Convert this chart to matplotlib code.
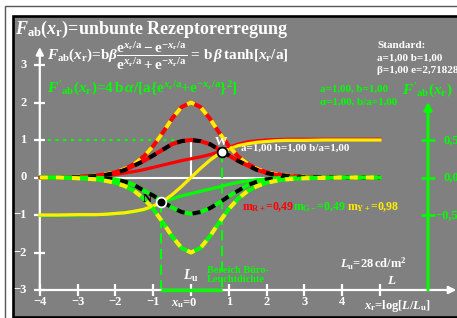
import matplotlib
matplotlib.use("Agg")
import matplotlib.pyplot as plt
from matplotlib.patches import Rectangle

plt.rcParams["font.family"] = "Liberation Serif"
plt.rcParams["font.weight"] = "bold"
plt.rcParams["mathtext.fontset"] = "custom"
plt.rcParams["mathtext.rm"] = "Liberation Serif:bold"
plt.rcParams["mathtext.it"] = "Liberation Serif:italic:bold"
plt.rcParams["mathtext.bf"] = "Liberation Serif:bold"

W, H = 457, 318
X0, SX = 191.0, 37.8   # pixel of x=0 and pixels per unit
Y0, SY = 177.5, 37.5

GRAY = "#808080"
RED = "#ff0000"
YEL = "#ffee00"
GRN = "#00ff00"

# values
x = [-4, -3.5, -3, -2.5, -2.25, -2, -1.75, -1.5, -1.25, -1, -0.75, -0.5, -0.25, 0,
     0.25, 0.5, 0.75, 1, 1.25, 1.5, 1.75, 2, 2.25, 2.5, 3, 3.5, 4, 5]
yellow_solid = [-1.0, -1.0, -0.99, -0.99, -0.98, -0.96, -0.94, -0.9, -0.85, -0.76,
                -0.64, -0.46, -0.24, 0.0, 0.24, 0.46, 0.64, 0.76,
                0.85, 0.9, 0.94, 0.96, 0.98, 0.99, 0.99, 1.0, 1.0, 1.0]
red_solid = [0.0, 0.0, 0.01, 0.03, 0.05, 0.08, 0.12, 0.16, 0.21, 0.27,
             0.33, 0.39, 0.45, 0.5, 0.55, 0.61, 0.69, 0.8,
             0.89, 0.95, 0.98, 1.0, 1.01, 1.02, 1.02, 1.02, 1.02, 1.02]
green_solid = [-1.01, -1.01, -1.0, -0.99, -0.98, -0.96, -0.94, -0.91, -0.86, -0.78,
               -0.66, -0.57, -0.49, -0.43, -0.37, -0.31, -0.25, -0.18,
               -0.13, -0.09, -0.06, -0.04, -0.02, -0.01, 0.0, 0.0, 0.0, 0.0]
red_yellow = [0.0, 0.0, 0.02, 0.05, 0.09, 0.14, 0.23, 0.36, 0.56, 0.84,
              1.19, 1.57, 1.88, 2.0, 1.88, 1.57, 1.19, 0.84,
              0.56, 0.36, 0.23, 0.14, 0.09, 0.05, 0.02, 0.01, 0.0, 0.0]
green_yellow = [-v for v in red_yellow]
red_black = [0.0, 0.0, 0.01, 0.04, 0.07, 0.12, 0.2, 0.32, 0.44, 0.59,
             0.74, 0.89, 0.97, 1.0, 0.97, 0.89, 0.74, 0.59,
             0.44, 0.32, 0.2, 0.12, 0.07, 0.04, 0.01, 0.0, 0.0, 0.0]
green_black = [0.0, 0.0, 0.0, -0.01, -0.02, -0.05, -0.11, -0.2, -0.35, -0.48,
               -0.65, -0.8, -0.92, -0.97, -0.92, -0.82, -0.67, -0.5,
               -0.35, -0.2, -0.11, -0.05, -0.02, -0.01, 0.0, 0.0, 0.0, 0.0]
w_point = (0.82, 0.69)
n_point = (-0.79, -0.64)

y_ticks = [-3, -2, -1, 0, 1, 2, 3]
y_labels = ["\u22123", "\u22122", "\u22121", "0", "1", "2", "3"]
x_ticks = [-4, -3, -2, -1, 0, 1, 2, 3, 4, 5]
x_labels = {-4: "\u22124", -3: "\u22123", -2: "\u22122", -1: "\u22121",
            1: "1", 2: "2", 3: "3", 4: "4"}
right_ticks = [-1, 0, 1]
right_labels = ["\u22120,5", "0,0", "0,5"]
x_right = 6.27


def fp(px, py):
    return px / W, 1 - py / H


def two_tone(xs, ys, base, dash, z):
    ax.plot(xs, ys, color=base, lw=2.9, solid_capstyle="butt", zorder=z)
    ax.plot(xs, ys, color=dash, lw=2.9, dashes=(2.0, 2.0),
            dash_capstyle="butt", zorder=z + 0.1)


fig = plt.figure(figsize=(W / 100, H / 100), dpi=100, facecolor="white")
ax = fig.add_axes([0, 0, 1, 1])
ax.set_xlim(-X0 / SX, (W - X0) / SX)
ax.set_ylim((Y0 - H) / SY, Y0 / SY)
ax.axis("off")

# frames
ax.add_patch(Rectangle(fp(4.5, 330), 470 / W, (330 - 6) / H, transform=ax.transAxes,
                       facecolor="white", edgecolor="#555555", lw=1.0, clip_on=False, zorder=0))
ax.add_patch(Rectangle(fp(12.5, 317), 460 / W, (317 - 15.5) / H, transform=ax.transAxes,
                       facecolor=GRAY, edgecolor="black", lw=1.9, clip_on=False, zorder=0.5))

# white axes with arrows
ax.annotate("", xy=(-4, 3.48), xytext=(-4, -3.0),
            arrowprops=dict(arrowstyle="-|>", color="white", lw=1.6,
                            mutation_scale=11, shrinkA=0, shrinkB=0), zorder=2)
ax.annotate("", xy=(7.02, -3), xytext=(-4, -3),
            arrowprops=dict(arrowstyle="-|>", color="white", lw=1.6,
                            mutation_scale=11, shrinkA=0, shrinkB=0), zorder=2)
ax.hlines(y_ticks, -4.15, -3.85, color="white", lw=1.6, zorder=2)
ax.vlines(x_ticks, -3.16, -2.84, color="white", lw=1.6, zorder=2)

# helper lines
ax.plot([-4, 2.0], [0, 0], color="white", lw=1.5, zorder=1)
ax.plot([0, 0], [0, 1], color="white", lw=1.5, zorder=1)
ax.plot([-4, 0], [1, 1], color=GRN, lw=1.5, dashes=(1.5, 2.2), zorder=1)
ax.plot([n_point[0], n_point[0]], [n_point[1], -3], color=GRN, lw=1.5,
        dashes=(5, 2.5), zorder=1)
ax.plot([w_point[0], w_point[0]], [w_point[1], -3], color=GRN, lw=1.5,
        dashes=(5, 2.5), zorder=1)
ax.plot([n_point[0], w_point[0]], [-3, -3], color=GRN, lw=2.4,
        solid_capstyle="butt", zorder=3)

# right green axis
ax.annotate("", xy=(x_right, 2.02), xytext=(x_right, -3),
            arrowprops=dict(arrowstyle="-|>", color=GRN, lw=2.2,
                            mutation_scale=11, shrinkA=0, shrinkB=0), zorder=2)
ax.hlines(right_ticks, x_right - 0.18, x_right + 0.18, color=GRN, lw=1.8, zorder=2)

# solid curves
ax.plot(x, red_solid, color=RED, lw=2.3, zorder=4)
ax.plot(x, green_solid, color=GRN, lw=2.3, zorder=4)
ax.plot(x, yellow_solid, color=YEL, lw=2.3, zorder=4.2)

# two-colour dashed curves
two_tone(x, red_yellow, RED, YEL, 5)
two_tone(x, red_black, RED, "black", 5.3)
two_tone(x, green_black, GRN, "black", 5.6)
two_tone(x, green_yellow, GRN, YEL, 5.9)

ax.plot(*w_point, "o", ms=7, mfc="white", mec="black", mew=1.3, zorder=7)
ax.plot(*n_point, "o", ms=7, mfc="black", mec="white", mew=1.3, zorder=7)

# tick labels
for yv, lab in zip(y_ticks, y_labels):
    ax.text(-4.35, yv, lab, color="white", fontsize=9, ha="right", va="center", zorder=3)
for xv, lab in x_labels.items():
    fig.text(fp(X0 + SX * xv, 305)[0], fp(0, 305)[1], lab, color="white",
             fontsize=9, ha="center", va="baseline")
fig.text(*fp(197, 306), r"$x_{\rm u}$=0", color="white", fontsize=9, ha="right", va="baseline")
fig.text(*fp(364, 309), r"$x_{\rm r}$=log[$L$/$L_{\rm u}$]", color="white",
         fontsize=9, ha="left", va="baseline")
for yv, lab in zip(right_ticks, right_labels):
    px_left = 435 if lab.startswith("\u2212") else 443
    ax.text((px_left - X0) / SX, yv, lab, color=GRN, fontsize=9, ha="left", va="center",
            zorder=3, clip_on=False)

# texts
fig.text(*fp(15, 33.5), r"$F_{\rm ab}(x_{\rm r})$=unbunte Rezeptorerregung",
         color="white", fontsize=13, va="baseline")
fig.text(*fp(47, 60),
         r"$F_{\rm ab}(x_{\rm r})$=b$\beta\dfrac{{\rm e}^{x_{\rm r}/{\rm a}}-{\rm e}^{-x_{\rm r}/{\rm a}}}"
         r"{{\rm e}^{x_{\rm r}/{\rm a}}+{\rm e}^{-x_{\rm r}/{\rm a}}}$ = b$\,\beta\,$tanh[$x_{\rm r}$/a]",
         color="white", fontsize=11, va="baseline")
fig.text(*fp(47, 93),
         r"$F'_{\rm ab}(x_{\rm r})$=4$\,$b$\,\alpha$/[a{e$^{x_{\rm r}/{\rm a}}$+e$^{-x_{\rm r}/{\rm a}}$}$^2$]",
         color=GRN, fontsize=11, va="baseline")
fig.text(*fp(377, 48), "Standard:", color="white", fontsize=8, va="baseline")
fig.text(*fp(377, 61), "a=1,00 b=1,00", color="white", fontsize=8, va="baseline")
fig.text(*fp(377, 73), "\u03b2=1,00 e=2,71828", color="white", fontsize=8, va="baseline")
fig.text(*fp(320, 92), "a=1,00, b=1,00", color=GRN, fontsize=8, va="baseline")
fig.text(*fp(320, 105), "\u03b1=1,00, b/a=1,00", color=GRN, fontsize=8, va="baseline")
fig.text(*fp(402, 95), r"$F'_{\rm ab}(x_{\rm r})$", color=GRN, fontsize=11, va="baseline")
fig.text(*fp(215, 145), "W", color="white", fontsize=9, va="baseline")
fig.text(*fp(143, 202), "N", color="black", fontsize=9, va="baseline")
fig.text(*fp(241, 151), "a=1,00 b=1,00 b/a=1,00", color="white", fontsize=8, va="baseline")
fig.text(*fp(242, 210), r"m$_{\rm R+}$=0,49", color=RED, fontsize=8.5, va="baseline")
fig.text(*fp(293, 210), "m$_{\\rm G\u2212}$=0,49", color=GRN, fontsize=8.5, va="baseline")
fig.text(*fp(347, 210), r"m$_{\rm Y+}$=0,98", color=YEL, fontsize=8.5, va="baseline")
fig.text(*fp(183, 280), r"$L_{\rm u}$", color="white", fontsize=10, va="baseline")
fig.text(*fp(207, 273), "Bereich B\u00fcro-", color=GRN, fontsize=7.5, va="baseline")
fig.text(*fp(207, 282), "Leuchtdichte", color=GRN, fontsize=7.5, va="baseline")
fig.text(*fp(340, 268), r"$L_{\rm u}$=28$\,$cd/m$^2$", color="white", fontsize=9, va="baseline")
fig.text(*fp(387, 284), r"$L$", color="white", fontsize=9.5, va="baseline")

fig.savefig("out.png", dpi=100, facecolor=fig.get_facecolor())
plt.close(fig)
